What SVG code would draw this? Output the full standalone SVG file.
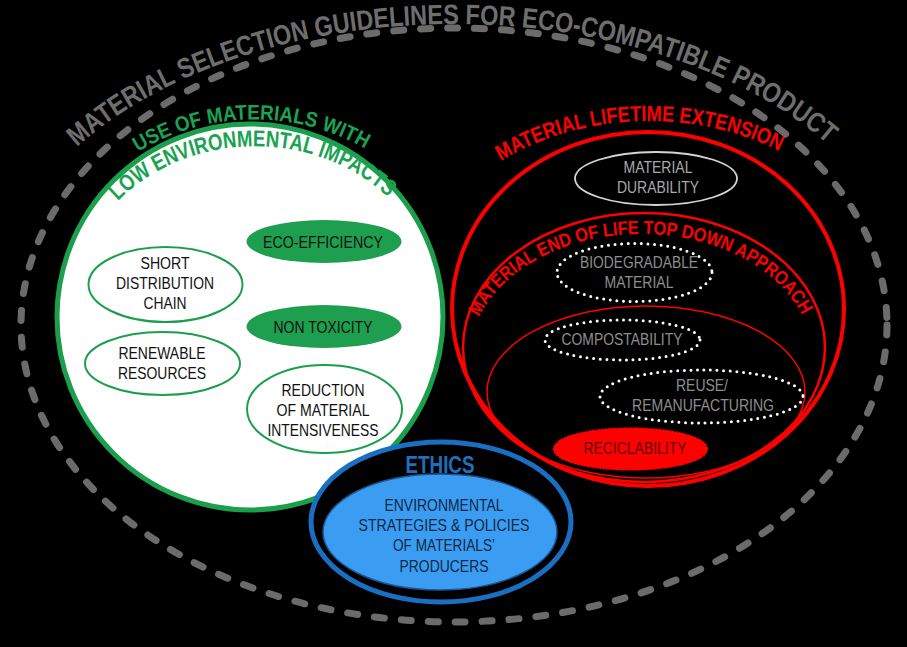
<svg xmlns="http://www.w3.org/2000/svg" xmlns:xlink="http://www.w3.org/1999/xlink" width="907" height="647" viewBox="0 0 907 647">
<style>
text{font-family:"Liberation Sans",Arial,sans-serif}
.lbl{font-size:17px;text-anchor:middle}
.ttl{font-weight:bold}
.dk{fill:#111}
.gr{fill:#8e8e8e}
.dot{fill:none;stroke:#fff;stroke-width:3;stroke-linecap:round;stroke-dasharray:0 6.6}
.wnode{fill:#fff;stroke:#1c9f4c;stroke-width:2}
.gnode{fill:#1e9e4f}
</style>
<defs>
<path id="pTitle" d="M 77,147 A 460 288 0 0 1 831,147"/>
<path id="pUse" d="M 138,152 A 210 195 0 0 1 367,150"/>
<path id="pLow" d="M 118,201 A 182 160 0 0 1 390,199"/>
<path id="pLife" d="M 501,161 A 240 188 0 0 1 781,152"/>
<path id="pEnd" d="M 479,317 A 172 125 0 0 1 803,317"/>
</defs>
<rect x="0" y="0" width="907" height="647" fill="#000"/>

<g id="outer-frame">
<ellipse cx="454" cy="325" rx="433" ry="297" fill="none" stroke="#6b6b6b" stroke-width="7" stroke-linecap="round" stroke-dasharray="10 17"/>
<text class="ttl" font-size="28" fill="#6e6e6e"><textPath xlink:href="#pTitle" href="#pTitle" textLength="805" lengthAdjust="spacingAndGlyphs">MATERIAL SELECTION GUIDELINES FOR ECO-COMPATIBLE PRODUCT</textPath></text>
</g>

<g id="low-impact">
<circle cx="250" cy="317" r="193" fill="#fff" stroke="#1c9f4c" stroke-width="5"/>
<text class="ttl" font-size="21" fill="#1aa352"><textPath xlink:href="#pUse" href="#pUse" textLength="238" lengthAdjust="spacingAndGlyphs">USE OF MATERIALS WITH</textPath></text>
<text class="ttl" font-size="23" fill="#1aa352"><textPath xlink:href="#pLow" href="#pLow" textLength="297" lengthAdjust="spacingAndGlyphs">LOW ENVIRONMENTAL IMPACTS</textPath></text>
</g>

<g id="eco-efficiency">
<ellipse class="gnode" cx="324" cy="241.5" rx="77.5" ry="21.5"/>
<text class="lbl dk" x="323" y="248" textLength="120" lengthAdjust="spacingAndGlyphs">ECO-EFFICIENCY</text>
</g>
<g id="non-toxicity">
<ellipse class="gnode" cx="324" cy="326.5" rx="77.5" ry="21.5"/>
<text class="lbl dk" x="323" y="333" textLength="99" lengthAdjust="spacingAndGlyphs">NON TOXICITY</text>
</g>
<g id="short-distribution">
<ellipse class="wnode" cx="165.5" cy="284.5" rx="77" ry="37.5"/>
<text class="lbl dk" x="165" y="269" textLength="49" lengthAdjust="spacingAndGlyphs">SHORT</text>
<text class="lbl dk" x="165" y="289" textLength="98" lengthAdjust="spacingAndGlyphs">DISTRIBUTION</text>
<text class="lbl dk" x="165" y="309" textLength="43" lengthAdjust="spacingAndGlyphs">CHAIN</text>
</g>
<g id="renewable">
<ellipse class="wnode" cx="162.5" cy="363.5" rx="77.5" ry="31.5"/>
<text class="lbl dk" x="162" y="359" textLength="87" lengthAdjust="spacingAndGlyphs">RENEWABLE</text>
<text class="lbl dk" x="162" y="379" textLength="88" lengthAdjust="spacingAndGlyphs">RESOURCES</text>
</g>
<g id="reduction">
<ellipse class="wnode" cx="324.5" cy="409" rx="77.5" ry="44"/>
<text class="lbl dk" x="323" y="396" textLength="83" lengthAdjust="spacingAndGlyphs">REDUCTION</text>
<text class="lbl dk" x="323" y="416" textLength="93" lengthAdjust="spacingAndGlyphs">OF MATERIAL</text>
<text class="lbl dk" x="323" y="436" textLength="111" lengthAdjust="spacingAndGlyphs">INTENSIVENESS</text>
</g>

<g id="lifetime-extension">
<ellipse cx="648" cy="309" rx="196" ry="177" fill="none" stroke="#ff0000" stroke-width="4"/>
<text class="ttl" font-size="22" fill="#ff0000"><textPath xlink:href="#pLife" href="#pLife" textLength="290" lengthAdjust="spacingAndGlyphs">MATERIAL LIFETIME EXTENSION</textPath></text>
</g>
<g id="end-of-life">
<ellipse cx="644" cy="347.5" rx="181" ry="134.5" fill="none" stroke="#ff0000" stroke-width="2.5"/>
<text class="ttl" font-size="19" fill="#ff0000"><textPath xlink:href="#pEnd" href="#pEnd" textLength="380" lengthAdjust="spacingAndGlyphs">MATERIAL END OF LIFE TOP DOWN APPROACH</textPath></text>
</g>
<g id="inner-loop">
<ellipse cx="646" cy="392" rx="159" ry="86" fill="none" stroke="#ff0000" stroke-width="1.5"/>
</g>

<g id="durability">
<ellipse cx="656" cy="178.5" rx="81" ry="26.5" fill="none" stroke="#d4d4d4" stroke-width="1.8"/>
<text class="lbl" fill="#a8a8a8" x="658" y="173" textLength="69" lengthAdjust="spacingAndGlyphs">MATERIAL</text>
<text class="lbl" fill="#a8a8a8" x="658" y="193" textLength="82" lengthAdjust="spacingAndGlyphs">DURABILITY</text>
</g>
<g id="biodegradable">
<ellipse class="dot" cx="634.5" cy="272.5" rx="77.5" ry="29"/>
<text class="lbl gr" x="639" y="268" textLength="118" lengthAdjust="spacingAndGlyphs">BIODEGRADABLE</text>
<text class="lbl gr" x="639" y="288" textLength="69" lengthAdjust="spacingAndGlyphs">MATERIAL</text>
</g>
<g id="compostability">
<ellipse class="dot" cx="622.5" cy="340" rx="77.5" ry="20"/>
<text class="lbl gr" x="622" y="345" textLength="121" lengthAdjust="spacingAndGlyphs">COMPOSTABILITY</text>
</g>
<g id="reuse">
<ellipse class="dot" cx="701.5" cy="396.5" rx="101.5" ry="26.5"/>
<text class="lbl gr" x="702" y="391" textLength="52" lengthAdjust="spacingAndGlyphs">REUSE/</text>
<text class="lbl gr" x="703" y="411" textLength="142" lengthAdjust="spacingAndGlyphs">REMANUFACTURING</text>
</g>
<g id="reciclability">
<ellipse cx="630.5" cy="449" rx="76" ry="20" fill="#ff0000" stroke="#ff0000" stroke-width="3.5" stroke-linecap="round" stroke-dasharray="0 3.2"/>
<text class="lbl" fill="#5a0000" x="635" y="454" textLength="103" lengthAdjust="spacingAndGlyphs">RECICLABILITY</text>
</g>

<g id="ethics">
<ellipse cx="441" cy="522" rx="130" ry="80" fill="#000" stroke="#1a6fc2" stroke-width="5"/>
<ellipse cx="440" cy="532" rx="117" ry="58" fill="#3a9df2" stroke="#1a5596" stroke-width="1.5"/>
<text x="440" y="473" font-size="23" font-weight="bold" fill="#1f6fbd" text-anchor="middle" textLength="69" lengthAdjust="spacingAndGlyphs">ETHICS</text>
<text class="lbl" fill="#0e2845" x="444" y="511" textLength="119" lengthAdjust="spacingAndGlyphs">ENVIRONMENTAL</text>
<text class="lbl" fill="#0e2845" x="444" y="531" textLength="171" lengthAdjust="spacingAndGlyphs">STRATEGIES &amp; POLICIES</text>
<text class="lbl" fill="#0e2845" x="444" y="551" textLength="102" lengthAdjust="spacingAndGlyphs">OF MATERIALS’</text>
<text class="lbl" fill="#0e2845" x="444" y="572" textLength="89" lengthAdjust="spacingAndGlyphs">PRODUCERS</text>
</g>
<g id="connectors"/>
</svg>
